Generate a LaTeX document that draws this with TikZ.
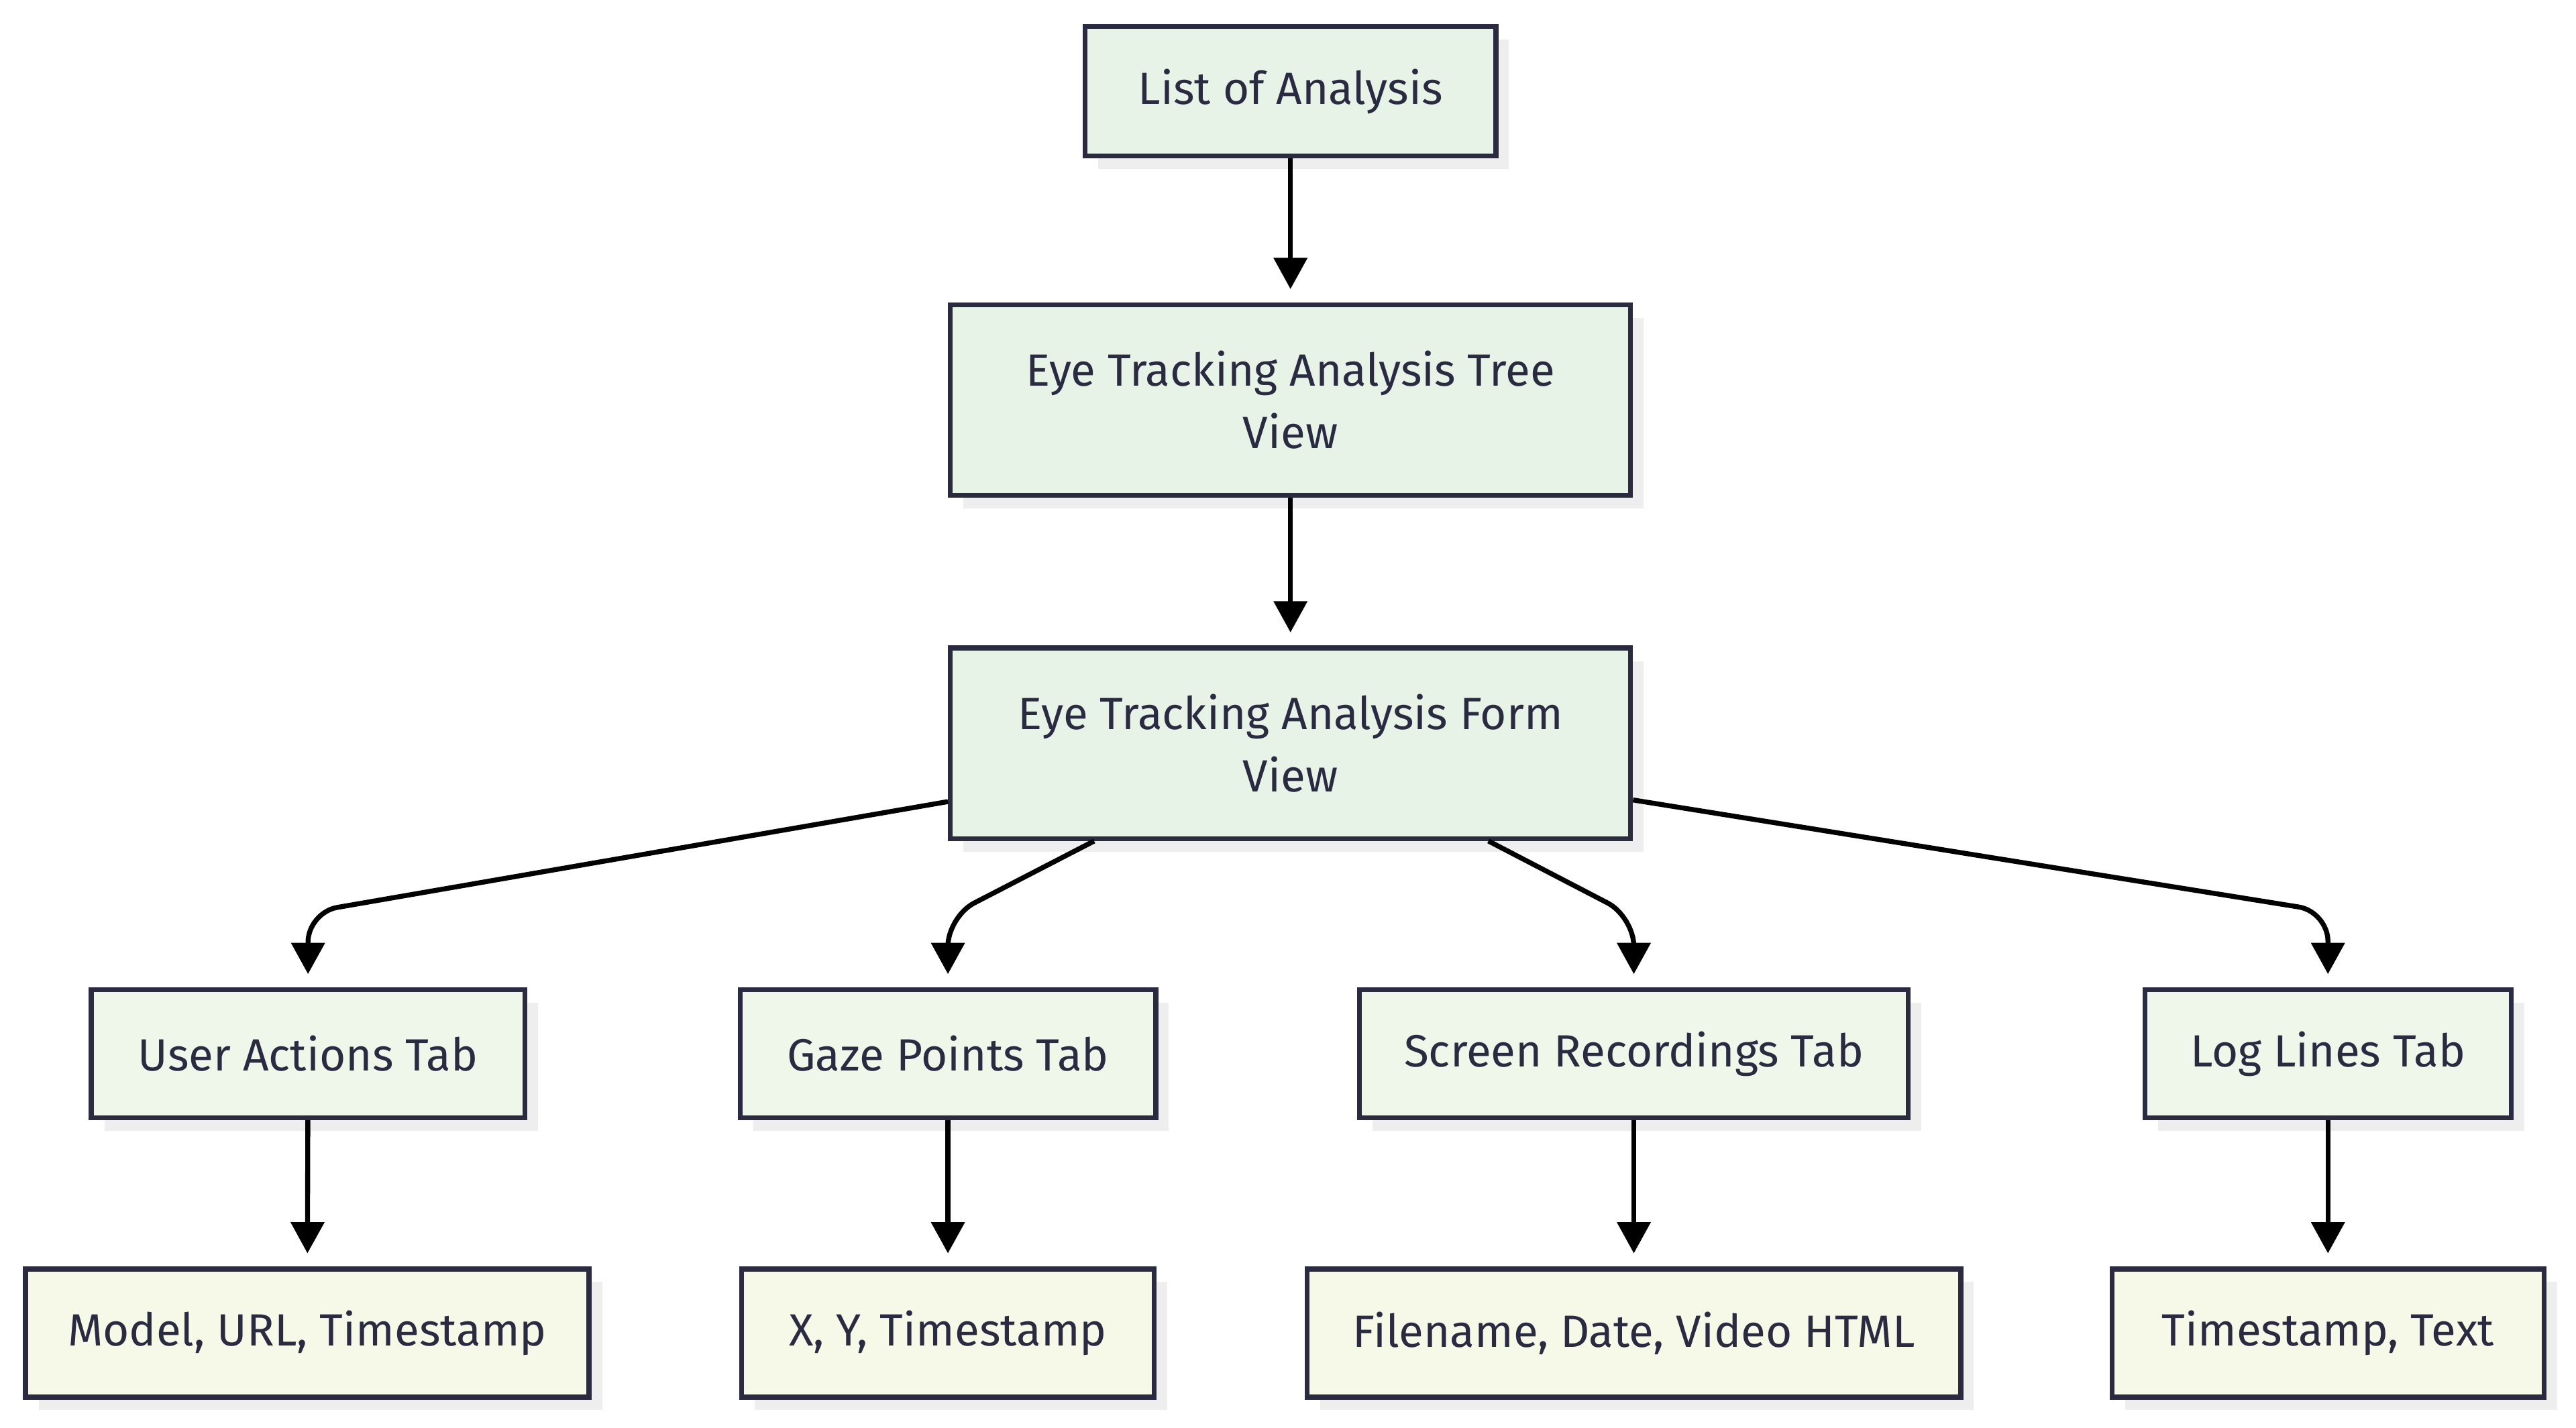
\documentclass[tikz,border=0pt]{standalone}
\usepackage{fontspec}
\setmainfont{Fira Sans}
\usetikzlibrary{arrows.meta,shadows}
\definecolor{ink}{HTML}{2A2A40}
\definecolor{fillA}{HTML}{E8F3E8}
\definecolor{fillB}{HTML}{EFF6EA}
\definecolor{fillC}{HTML}{F7F9E8}
\definecolor{shade}{HTML}{EEEEEE}
\begin{document}
\begin{tikzpicture}[x=1pt,y=1pt,
  box/.style={draw=ink, line width=3pt, text=ink, font=\fontsize{27.5}{38}\selectfont,
    align=center, inner sep=0pt, minimum height=79pt,
    general shadow={fill=shade, shadow xshift=8pt, shadow yshift=-8pt}},
  boxA/.style={box, fill=fillA},
  boxB/.style={box, fill=fillB, minimum height=78pt},
  boxC/.style={box, fill=fillC, minimum height=78pt},
  edge/.style={draw=black, line width=3pt, -{Triangle[length=19pt,width=20pt]}, shorten >=8pt},
  bentedge/.style={edge, rounded corners=18pt}]
\useasboundingbox (0,0) rectangle (1568,-869.3);
\node[boxA, minimum width=250pt] (lst) at (785.5,-55.5) {List of Analysis};
\node[boxA, minimum width=414pt, minimum height=116pt] (tree) at (785.5,-243.5) {Eye Tracking Analysis Tree\\View};
\node[boxA, minimum width=414pt, minimum height=116pt] (form) at (785.5,-452.5) {Eye Tracking Analysis Form\\View};
\node[boxB, minimum width=264pt] (ua) at (187.5,-641.5) {User Actions Tab};
\node[boxB, minimum width=253pt] (gp) at (577,-641.5) {Gaze Points Tab};
\node[boxB, minimum width=334pt] (sr) at (994.5,-641.5) {Screen Recordings Tab};
\node[boxB, minimum width=223pt] (ll) at (1417,-641.5) {Log Lines Tab};
\node[boxC, minimum width=343pt] (m) at (187,-811.5) {Model, URL, Timestamp};
\node[boxC, minimum width=251pt] (xy) at (577,-811.5) {X, Y, Timestamp};
\node[boxC, minimum width=398pt] (fn) at (994.5,-811.5) {Filename, Date, Video HTML};
\node[boxC, minimum width=263pt] (ts) at (1417,-811.5) {Timestamp, Text};
\draw[edge] (lst) -- (tree);
\draw[edge] (tree) -- (form);
\draw[bentedge] ([yshift=-35.5pt]form.west) -- (ua.north |- 0,-555.5) -- (ua.north);
\draw[bentedge] ([xshift=-119.5pt]form.south) -- (gp.north |- 0,-558) -- (gp.north);
\draw[bentedge] ([xshift=120.5pt]form.south) -- (sr.north |- 0,-558) -- (sr.north);
\draw[bentedge] ([yshift=-34.5pt]form.east) -- (ll.north |- 0,-555) -- (ll.north);
\draw[edge] (ua) -- (m);
\draw[edge] (gp) -- (xy);
\draw[edge] (sr) -- (fn);
\draw[edge] (ll) -- (ts);
\end{tikzpicture}
\end{document}
